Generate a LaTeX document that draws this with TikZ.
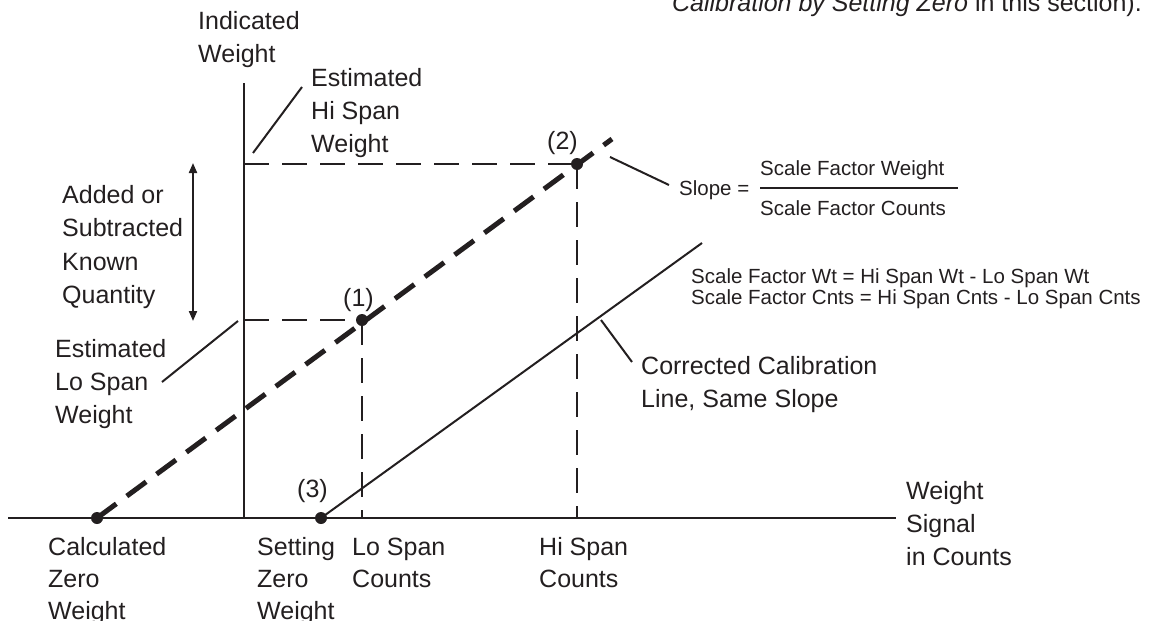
\documentclass[tikz,border=0pt]{standalone}
\usepackage{fontspec}
\setmainfont{Liberation Sans}
\usetikzlibrary{arrows.meta}
\definecolor{ink}{RGB}{35,31,32}
\newcommand\ml[2][33pt]{\vtop{\baselineskip=#1\lineskiplimit=-50pt\lineskip=0pt\halign{##\hfil\cr#2\crcr}}}
\newcommand\bigf{\fontsize{25}{33}\selectfont}
\newcommand\smallf{\fontsize{20.5}{21}\selectfont}
\begin{document}
\begin{tikzpicture}[x=1pt,y=-1pt,
  lbl/.style={anchor=base west,inner sep=0pt,font=\bigf,text=ink},
  slbl/.style={anchor=base west,inner sep=0pt,font=\smallf,text=ink},
  axisline/.style={draw=ink,line width=2.4pt},
  thindash/.style={draw=ink,line width=2pt,dash pattern=on 25pt off 13pt},
  thickdash/.style={draw=ink,line width=5pt,dash pattern=on 24pt off 13pt},
  leader/.style={draw=ink,line width=2pt},
  dot/.style={circle,fill=ink,inner sep=0pt,minimum size=12pt},
]
\useasboundingbox (0,0) rectangle (1162,621);

% top clipped text
\node[lbl,anchor=base east] (toptext) at (1142,12) {\itshape Calibration by Setting Zero\upshape{} in this section).};

% axes
\coordinate (xl) at (8,518);
\coordinate (xr) at (896,518);
\coordinate (yt) at (244,83);
\coordinate (yb) at (244,518);
\draw[axisline] (xl) -- (xr);
\draw[axisline] (yb) -- (yt);

% key points
\node[dot] (p0) at (97,518) {};
\node[dot] (p1) at (362,320) {};
\node[dot] (p2) at (577,164) {};
\node[dot] (p3) at (321,518) {};
\coordinate (ylo) at (244,320);
\coordinate (yhi) at (244,164);
\coordinate (xlo) at (362,518);
\coordinate (xhi) at (577,518);
\coordinate (lineend) at (612,139);
\coordinate (corrend) at (702,243);

% dashed projections
\draw[thindash] (ylo) -- (p1.center);
\draw[thindash] (p1.center) -- (xlo);
\draw[thindash] (yhi) -- (p2.center);
\draw[thindash] (p2.center) -- (xhi);

% calibration lines
\draw[thickdash] (p0.center) -- (lineend);
\draw[leader] (p3.center) -- (corrend);

% point labels
\node[lbl] (l1) at (343,306) {(1)};
\node[lbl] (l2) at (547,149) {(2)};
\node[lbl] (l3) at (297,497) {(3)};

% axis labels
\node[lbl] (yind) at (198,29) {\ml{Indicated\cr Weight}};
\node[lbl] (xsig) at (906,499) {\ml{Weight\cr Signal\cr in Counts}};

% estimated hi span
\node[lbl] (ehi) at (311,86) {\ml{Estimated\cr Hi Span\cr Weight}};
\coordinate (ehiA) at (302,87);
\coordinate (ehiB) at (253,153);
\draw[leader] (ehiA) -- (ehiB);

% estimated lo span
\node[lbl] (elo) at (55,357) {\ml{Estimated\cr Lo Span\cr Weight}};
\coordinate (eloA) at (162,382);
\coordinate (eloB) at (238,321);
\draw[leader] (eloA) -- (eloB);

% added or subtracted
\node[lbl] (added) at (62,203) {\ml[33.5pt]{Added or\cr Subtracted\cr Known\cr Quantity}};
\coordinate (arrT) at (193,163);
\coordinate (arrB) at (193,321);
\draw[draw=ink,line width=2pt,{Triangle[length=10pt,width=8pt]}-{Triangle[length=10pt,width=8pt]}] (arrT) -- (arrB);

% bottom labels
\node[lbl] (calc) at (48,555) {\ml[32pt]{Calculated\cr Zero\cr Weight}};
\node[lbl] (sett) at (257,555) {\ml[32pt]{Setting\cr Zero\cr Weight}};
\node[lbl] (locnt) at (352,555) {\ml[32pt]{Lo Span\cr Counts}};
\node[lbl] (hicnt) at (539,555) {\ml[32pt]{Hi Span\cr Counts}};

% corrected calibration label
\node[lbl] (corr) at (641,374) {\ml{Corrected Calibration\cr Line, Same Slope}};
\coordinate (corrA) at (601,320);
\coordinate (corrB) at (632,362);
\draw[leader] (corrA) -- (corrB);

% slope
\coordinate (slA) at (610,157);
\coordinate (slB) at (669,185);
\draw[leader] (slA) -- (slB);
\node[slbl] (slope) at (679,195) {Slope =};
\node[slbl] (num) at (760,175) {Scale Factor Weight};
\node[slbl] (den) at (760,215) {Scale Factor Counts};
\coordinate (fracL) at (760,188);
\coordinate (fracR) at (958,188);
\draw[draw=ink,line width=2pt] (fracL) -- (fracR);

% scale factor formulas
\node[slbl] (sf) at (691,283.5) {\ml[21pt]{Scale Factor Wt = Hi Span Wt - Lo Span Wt\cr Scale Factor Cnts = Hi Span Cnts - Lo Span Cnts}};
\end{tikzpicture}
\end{document}
